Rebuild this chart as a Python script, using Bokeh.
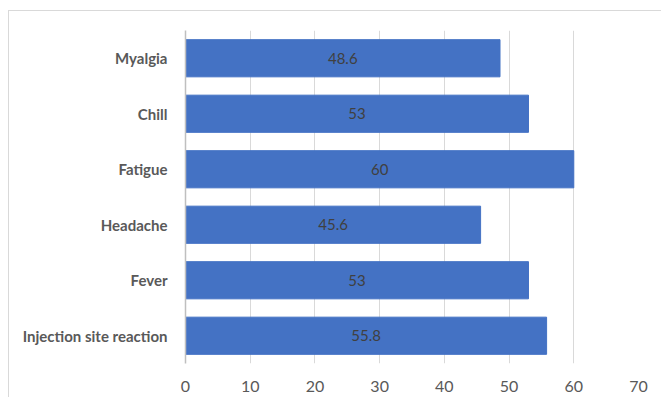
from bokeh.plotting import figure
from bokeh.models import FactorRange, Range1d, FixedTicker, ColumnDataSource
from bokeh.core.properties import value
from bokeh.embed import file_html
from bokeh.resources import INLINE

categories = ["Myalgia", "Chill", "Fatigue", "Headache", "Fever", "Injection site reaction"]
values = [48.6, 53, 60, 45.6, 53, 55.8]
x_ticks = [0, 10, 20, 30, 40, 50, 60, 70]

FONT = "Lato"

src = ColumnDataSource(dict(
    cat=categories,
    val=values,
    mid=[v / 2 for v in values],
    lab=[("%g" % v) for v in values],
))

p = figure(
    width=653, height=387,
    y_range=FactorRange(factors=list(reversed(categories))),
    x_range=Range1d(0, 70),
    output_backend="svg", toolbar_location=None,
    min_border_left=176, min_border_right=24, min_border_top=19, min_border_bottom=35,
    margin=(10, 0, 0, 8),
    styles={"border-top": "1px solid #D9D9D9", "border-left": "1px solid #D9D9D9"},
)
p.outline_line_color = None
p.background_fill_color = "white"
p.border_fill_color = "white"

p.hbar(y="cat", right="val", left=0, height=0.67, source=src,
       fill_color="#4472C4", line_color="#4472C4")
p.text(x="mid", y="cat", text="lab", source=src, text_align="center",
       text_baseline="middle", text_color="#404040", text_font_size="15px",
       text_font=value(FONT))

p.xaxis.ticker = FixedTicker(ticks=x_ticks)
p.xaxis.axis_line_color = None
p.xaxis.major_tick_line_color = None
p.xaxis.minor_tick_line_color = None
p.xaxis.major_label_text_font = FONT
p.xaxis.major_label_text_font_size = "16px"
p.xaxis.major_label_text_color = "#595959"
p.xaxis.major_label_standoff = 11

p.yaxis.axis_line_color = "#BFBFBF"
p.yaxis.axis_line_width = 1.5
p.yaxis.major_tick_line_color = None
p.yaxis.minor_tick_line_color = None
p.yaxis.major_label_text_font = FONT
p.yaxis.major_label_text_font_style = "bold"
p.yaxis.major_label_text_font_size = "15px"
p.yaxis.major_label_text_color = "#595959"
p.yaxis.major_label_standoff = 12

p.xgrid.grid_line_color = "#D9D9D9"
p.ygrid.grid_line_color = None

open("out.html", "w").write(file_html(p, INLINE))
